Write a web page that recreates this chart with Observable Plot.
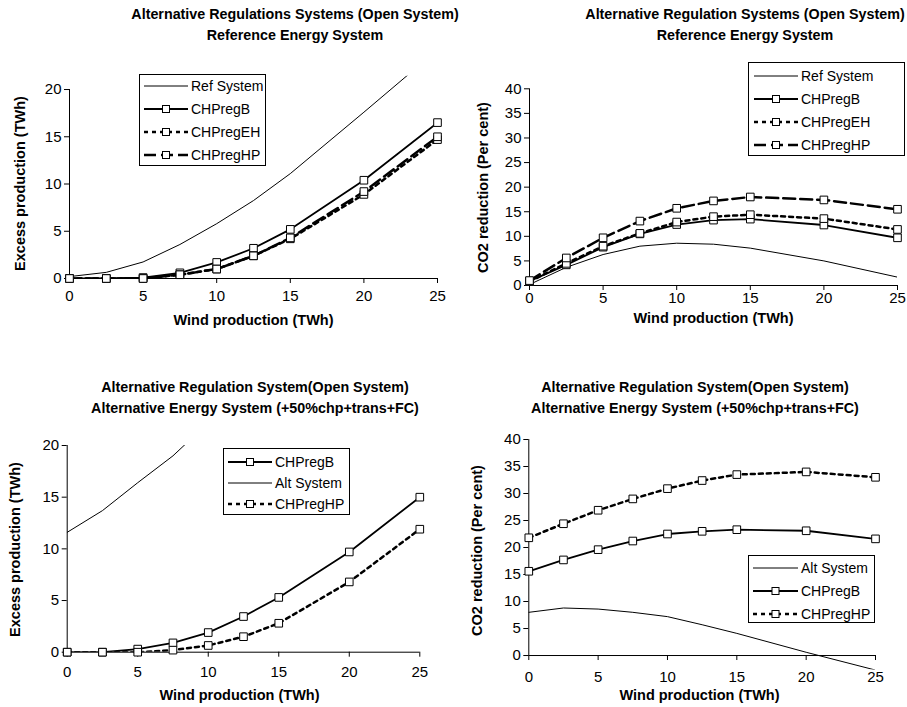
<!DOCTYPE html>
<html><head><meta charset="utf-8">
<script src="https://cdn.jsdelivr.net/npm/d3@7"></script>
<script src="https://cdn.jsdelivr.net/npm/@observablehq/plot@0.6"></script>
<style>
body{margin:0;background:#fff;font-family:"Liberation Sans",Arial,sans-serif;}
#root{position:relative;width:907px;height:707px;overflow:hidden;background:#fff;}
.title{position:absolute;font-weight:bold;font-size:14.3px;text-align:center;white-space:nowrap;transform:translateX(-50%);line-height:21px;color:#000}
.legend{position:absolute;border:1px solid #000;background:#fff;font-size:14px;color:#000;box-sizing:border-box}
.row{position:absolute;left:0;right:0;height:16px;}
.row svg{position:absolute;top:0}
.row span{position:absolute;top:0;line-height:16px;white-space:nowrap}
.panel{position:absolute}
</style></head><body><div id="root"></div>
<script>
// ---- data ----
const wind = [0, 2.5, 5, 7.5, 10, 12.5, 15, 20, 25];
const xTicks = [0, 5, 10, 15, 20, 25];

// Panel 1: Excess production, Reference Energy System
const p1Ref  = [0.2, 0.65, 1.75, 3.6, 5.8, 8.25, 11.1, 17.6, 24.2];
const p1B    = [0, 0, 0.1, 0.6, 1.7, 3.2, 5.2, 10.4, 16.5];
const p1EH   = [0, 0, 0, 0.4, 1.0, 2.4, 4.2, 8.9, 14.7];
const p1HP   = [0, 0, 0, 0.4, 1.0, 2.4, 4.3, 9.2, 15.0];

// Panel 2: CO2 reduction, Reference Energy System
const p2Ref  = [0.2, 3.7, 6.3, 8.0, 8.6, 8.4, 7.6, 5.0, 1.7];
const p2B    = [0.9, 4.2, 7.8, 10.5, 12.4, 13.3, 13.5, 12.3, 9.7];
const p2EH   = [0.8, 4.5, 8.0, 10.6, 12.9, 14.0, 14.4, 13.6, 11.4];
const p2HP   = [1.0, 5.6, 9.7, 13.1, 15.7, 17.2, 18.0, 17.4, 15.5];

// Panel 3: Excess production, Alternative Energy System
const p3B    = [0, 0, 0.3, 0.9, 1.9, 3.45, 5.3, 9.7, 15.0];
const p3Alt  = [11.6, 13.7, 16.4, 19.0, 22.2];
const p3HP   = [0, 0, 0, 0.2, 0.65, 1.5, 2.8, 6.8, 11.9];

// Panel 4: CO2 reduction, Alternative Energy System
const p4Alt  = [8.0, 8.8, 8.6, 8.0, 7.2, 5.7, 4.1, 0.6, -2.7];
const p4B    = [15.6, 17.7, 19.6, 21.2, 22.5, 23.0, 23.3, 23.1, 21.6];
const p4HP   = [21.8, 24.4, 26.9, 29.0, 30.9, 32.4, 33.5, 34.0, 33.0];

const yTicks20 = [0, 5, 10, 15, 20];
const yTicks40 = [0, 5, 10, 15, 20, 25, 30, 35, 40];

// ---- styles ----
const ST = {
  thin: {strokeWidth: 1, dash: null, marker: false},
  solid: {strokeWidth: 1.8, dash: null, marker: true},
  dot: {strokeWidth: 2.5, dash: "4,4", marker: true},
  long: {strokeWidth: 2.5, dash: "12,5", marker: true}
};

const root = document.getElementById("root");
const FONT = '"Liberation Sans", Arial, sans-serif';

function panel(cfg) {
  const [bx, by, bw, bh] = cfg.box;
  const [fl, ft, fr, fb] = cfg.frame;
  const marks = [];
  const yMax = cfg.yTicks[cfg.yTicks.length - 1];
  marks.push(Plot.axisY(cfg.yTicks, {tickSize: 5, tickPadding: 3, label: null, fontSize: 15}));
  marks.push(Plot.axisX(xTicks, {anchor: "bottom", tickSize: 0, tickPadding: cfg.xPad, label: null, fontSize: 15}));
  marks.push(Plot.ruleX([0], {y1: 0, y2: yMax, stroke: "black", strokeWidth: 1}));
  marks.push(Plot.ruleY([0], {x1: 0, x2: 25, stroke: "black", strokeWidth: 1}));
  marks.push(Plot.ruleX(xTicks, {x: d => d, y1: 0, y2: 0, insetBottom: -5, stroke: "black"}));
  for (const s of cfg.series) {
    const st = ST[s.style];
    const data = s.values.map((v, i) => ({x: wind[i], y: v}));
    marks.push(Plot.line(data, {x: "x", y: "y", stroke: "black", strokeWidth: st.strokeWidth,
      strokeDasharray: st.dash, clip: true, strokeLinejoin: "miter"}));
  }
  for (const s of cfg.series) {
    const st = ST[s.style];
    if (!st.marker) continue;
    const data = s.values.map((v, i) => ({x: wind[i], y: v}));
    marks.push(Plot.dot(data, {x: "x", y: "y", symbol: "square", r: 4.3, fill: "white", stroke: "black", strokeWidth: 1}));
  }
  const fcy = (ft + fb) / 2, fcx = (fl + fr) / 2;
  marks.push(Plot.text([cfg.yLabel], {frameAnchor: "left", rotate: -90, fontWeight: "bold", fontSize: 14.5,
    dx: cfg.yLabelPos[0] - fl, dy: cfg.yLabelPos[1] - fcy, lineAnchor: "middle", textAnchor: "middle"}));
  marks.push(Plot.text(["Wind production (TWh)"], {frameAnchor: "bottom", fontWeight: "bold", fontSize: 14.5,
    dx: cfg.xLabelPos[0] - fcx, dy: cfg.xLabelPos[1] - fb, lineAnchor: "middle", textAnchor: "middle"}));
  const svg = Plot.plot({
    width: bw, height: bh,
    marginLeft: fl - bx, marginRight: bx + bw - fr, marginTop: ft - by, marginBottom: by + bh - fb,
    x: {domain: [0, 25]},
    y: {domain: cfg.yDomain},
    style: {fontFamily: FONT, fontSize: "15px", background: "transparent", color: "black", overflow: "visible"},
    marks
  });
  svg.classList.add("panel");
  svg.style.left = bx + "px";
  svg.style.top = by + "px";
  root.appendChild(svg);
}

function title(cx, y, lines) {
  const d = document.createElement("div");
  d.className = "title";
  d.style.left = cx + "px";
  d.style.top = y + "px";
  d.innerHTML = lines.join("<br>");
  root.appendChild(d);
}

function legend(x, y, w, h, rows, swX, swW, txX) {
  const d = document.createElement("div");
  d.className = "legend";
  Object.assign(d.style, {left: x + "px", top: y + "px", width: w + "px", height: h + "px"});
  for (const r of rows) {
    const st = ST[r.style];
    const row = document.createElement("div");
    row.className = "row";
    row.style.top = (r.cy - y - 8) + "px";
    const ns = "http://www.w3.org/2000/svg";
    const s = document.createElementNS(ns, "svg");
    s.setAttribute("width", swW); s.setAttribute("height", 16);
    s.style.left = (swX - x) + "px";
    const ln = document.createElementNS(ns, "line");
    ln.setAttribute("x1", 0); ln.setAttribute("x2", swW); ln.setAttribute("y1", 8); ln.setAttribute("y2", 8);
    ln.setAttribute("stroke", "black"); ln.setAttribute("stroke-width", st.strokeWidth);
    if (st.dash) ln.setAttribute("stroke-dasharray", st.dash);
    s.appendChild(ln);
    if (st.marker) {
      const rc = document.createElementNS(ns, "rect");
      rc.setAttribute("x", swW / 2 - 3.5); rc.setAttribute("y", 4.5); rc.setAttribute("width", 7); rc.setAttribute("height", 7);
      rc.setAttribute("fill", "white"); rc.setAttribute("stroke", "black");
      s.appendChild(rc);
    }
    row.appendChild(s);
    const t = document.createElement("span");
    t.textContent = r.name;
    t.style.left = (txX - x) + "px";
    row.appendChild(t);
    d.appendChild(row);
  }
  root.appendChild(d);
}

// Panel 1
panel({box: [0, 45, 450, 300], frame: [69, 75.8, 437, 278], yDomain: [0, 21.4], yTicks: yTicks20, xPad: 12,
  yLabel: "Excess production (TWh)", yLabelPos: [20, 183], xLabelPos: [253, 320],
  series: [{name: "Ref System", values: p1Ref, style: "thin"},
           {name: "CHPregB", values: p1B, style: "solid"},
           {name: "CHPregEH", values: p1EH, style: "dot"},
           {name: "CHPregHP", values: p1HP, style: "long"}]});
// Panel 2
panel({box: [450, 45, 457, 300], frame: [529, 88.3, 897, 285], yDomain: [0, 40], yTicks: yTicks40, xPad: 7,
  yLabel: "CO2 reduction (Per cent)", yLabelPos: [483, 187], xLabelPos: [713, 318],
  series: [{name: "Ref System", values: p2Ref, style: "thin"},
           {name: "CHPregB", values: p2B, style: "solid"},
           {name: "CHPregEH", values: p2EH, style: "dot"},
           {name: "CHPregHP", values: p2HP, style: "long"}]});
// Panel 3
panel({box: [0, 418, 450, 289], frame: [66.7, 445, 419.3, 651.7], yDomain: [0, 20], yTicks: yTicks20, xPad: 14,
  yLabel: "Excess production (TWh)", yLabelPos: [15, 549], xLabelPos: [239, 695],
  series: [{name: "CHPregB", values: p3B, style: "solid"},
           {name: "Alt System", values: p3Alt, style: "thin"},
           {name: "CHPregHP", values: p3HP, style: "dot"}]});
// Panel 4
panel({box: [450, 418, 457, 289], frame: [528.3, 439, 875, 669.6], yDomain: [-2.7, 40], yTicks: yTicks40, xPad: 1,
  yLabel: "CO2 reduction (Per cent)", yLabelPos: [477, 550], xLabelPos: [699, 695],
  series: [{name: "Alt System", values: p4Alt, style: "thin"},
           {name: "CHPregB", values: p4B, style: "solid"},
           {name: "CHPregHP", values: p4HP, style: "dot"}]});

// Titles
title(295, 4, ["Alternative Regulations Systems (Open System)", "Reference Energy System"]);
title(745, 4, ["Alternative Regulation Systems (Open System)", "Reference Energy System"]);
title(255, 377, ["Alternative Regulation System(Open System)", "Alternative Energy System (+50%chp+trans+FC)"]);
title(695, 377, ["Alternative Regulation System(Open System)", "Alternative Energy System (+50%chp+trans+FC)"]);

// Legends
legend(139, 74, 127, 92, [
  {name: "Ref System", style: "thin", cy: 85},
  {name: "CHPregB", style: "solid", cy: 108},
  {name: "CHPregEH", style: "dot", cy: 131},
  {name: "CHPregHP", style: "long", cy: 154}], 143, 44, 190);
legend(748, 62, 157, 94, [
  {name: "Ref System", style: "thin", cy: 75},
  {name: "CHPregB", style: "solid", cy: 98},
  {name: "CHPregEH", style: "dot", cy: 121},
  {name: "CHPregHP", style: "long", cy: 144}], 753, 44, 800);
legend(223, 448, 127, 67, [
  {name: "CHPregB", style: "solid", cy: 461},
  {name: "Alt System", style: "thin", cy: 482},
  {name: "CHPregHP", style: "dot", cy: 503}], 227, 44, 274);
legend(748, 555, 127, 68, [
  {name: "Alt System", style: "thin", cy: 567},
  {name: "CHPregB", style: "solid", cy: 590},
  {name: "CHPregHP", style: "dot", cy: 613}], 752, 45, 800);
</script>
</body></html>
